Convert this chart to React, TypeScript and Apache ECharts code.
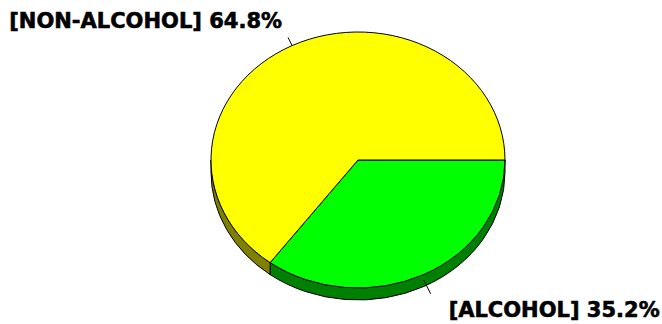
import React, { useEffect, useRef } from "react";
import * as echarts from "echarts";

const categories = ["ALCOHOL", "NON-ALCOHOL"];
const values = [35.2, 64.8];
const topColors = ["#00ff00", "#ffff00"];
const sideColors = ["#008000", "#808000"];

const CX = 358;
const CY = 160;
const RX = 147;
const RY = 128;
const DEPTH = 12;

const total = values.reduce((a, b) => a + b, 0);

function angles(idx: number): [number, number] {
  let before = 0;
  for (let i = 0; i < idx; i++) before += values[i];
  const a0 = (before / total) * Math.PI * 2;
  const a1 = ((before + values[idx]) / total) * Math.PI * 2;
  return [a0, a1];
}

function pt(a: number, dy = 0): [number, number] {
  return [CX + RX * Math.cos(a), CY + RY * Math.sin(a) + dy];
}

function f(p: [number, number]) {
  return p[0].toFixed(2) + " " + p[1].toFixed(2);
}

export default function App() {
  const ref = useRef<HTMLDivElement>(null);
  useEffect(() => {
    document.body.style.margin = "0";
    if (!ref.current) return;
    const chart = echarts.init(ref.current, undefined, { renderer: "svg" });
    const data = values.map((v, i) => ({ name: categories[i], value: v }));

    const sideRender = (params: any, api: any) => {
      const idx = params.dataIndex;
      const [a0, a1] = angles(idx);
      const s = Math.max(a0, 0);
      const e = Math.min(a1, Math.PI);
      if (e <= s) return { type: "group", children: [] };
      const large = e - s > Math.PI ? 1 : 0;
      const d =
        "M " + f(pt(s)) +
        " A " + RX + " " + RY + " 0 " + large + " 1 " + f(pt(e)) +
        " L " + f(pt(e, DEPTH)) +
        " A " + RX + " " + RY + " 0 " + large + " 0 " + f(pt(s, DEPTH)) +
        " Z";
      return {
        type: "path",
        shape: { pathData: d },
        style: { fill: sideColors[idx], stroke: "#000", lineWidth: 1 },
      };
    };

    const textStyle = {
      fill: "#000",
      font: "bold 21px 'DejaVu Sans'",
      stroke: "#000",
      lineWidth: 0.6,
    };

    const topRender = (params: any, api: any) => {
      const idx = params.dataIndex;
      const [a0, a1] = angles(idx);
      const large = a1 - a0 > Math.PI ? 1 : 0;
      const d =
        "M " + CX + " " + CY +
        " L " + f(pt(a0)) +
        " A " + RX + " " + RY + " 0 " + large + " 1 " + f(pt(a1)) +
        " Z";
      const mid = (a0 + a1) / 2;
      const c = Math.cos(mid);
      const sn = Math.sin(mid);
      const front = sn > 0;
      const start = pt(mid, front ? 6 : 0);
      const L = front ? 15 : 9;
      const end: [number, number] = [start[0] + c * L, start[1] + sn * L];
      const value = api.value(0);
      const label = "[" + categories[idx] + "] " + ((value / total) * 100).toFixed(1) + "%";
      const textEl =
        c < 0
          ? {
              type: "text",
              style: {
                ...textStyle,
                text: label,
                x: end[0] - 6,
                y: end[1] - 17,
                align: "right",
                verticalAlign: "middle",
              },
            }
          : {
              type: "text",
              style: {
                ...textStyle,
                text: label,
                x: end[0] + 18,
                y: end[1] + 16,
                align: "left",
                verticalAlign: "middle",
              },
            };
      return {
        type: "group",
        children: [
          {
            type: "path",
            shape: { pathData: d },
            style: { fill: topColors[idx], stroke: "#000", lineWidth: 1 },
          },
          {
            type: "line",
            shape: { x1: start[0], y1: start[1], x2: end[0], y2: end[1] },
            style: { stroke: "#000", lineWidth: 1 },
          },
          textEl,
        ],
      };
    };

    chart.setOption({
      animation: false,
      backgroundColor: "#ffffff",
      series: [
        {
          type: "custom",
          coordinateSystem: "none",
          renderItem: sideRender,
          data: data,
          z: 1,
        },
        {
          type: "custom",
          coordinateSystem: "none",
          renderItem: topRender,
          data: data,
          z: 2,
        },
      ],
    });
    return () => chart.dispose();
  }, []);
  return <div ref={ref} style={{ width: 662, height: 324 }} />;
}
